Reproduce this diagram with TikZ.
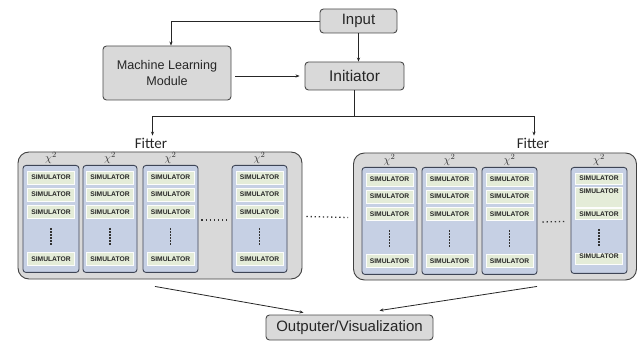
\documentclass[tikz,border=0pt]{standalone}
\usepackage{fontspec}
\setmainfont{Liberation Sans}
\newfontfamily\fitfont{Carlito}
\usetikzlibrary{arrows.meta,calc}
\definecolor{boxgray}{HTML}{D9D9D9}
\definecolor{boxline}{HTML}{4A4A4A}
\definecolor{colblue}{HTML}{C6D0E4}
\definecolor{colline}{HTML}{3E4556}
\definecolor{simgreen}{HTML}{E4ECD8}
\tikzset{
  box/.style={draw=boxline, fill=boxgray, rounded corners=3.5pt, line width=0.9pt, inner sep=0pt, text=black!85},
  fitbox/.style={draw=black!75, fill=boxgray, rounded corners=11pt, line width=0.9pt, inner sep=0pt},
  colbox/.style={draw=colline, fill=colblue, rounded corners=3pt, line width=0.9pt, inner sep=0pt},
  sim/.style={fill=simgreen, draw=white!90!simgreen, line width=0.3pt, inner sep=0pt, minimum width=47pt, minimum height=13pt, font=\fontsize{6.7}{8}\selectfont\bfseries, text=black!85},
  chi/.style={inner sep=0pt, font=\fontsize{11}{13}\selectfont, text=black!80},
  fitlabel/.style={inner sep=0pt, font=\fitfont\fontsize{15}{17}\selectfont, text=black!85},
  arr/.style={draw=black!85, line width=0.8pt, -{Stealth[length=4pt,width=3.2pt]}},
  plain/.style={draw=black!85, line width=0.8pt},
  vdots/.style={draw=black!80, line width=1.6pt, dash pattern=on 1.6pt off 1.5pt},
  hdots/.style={draw=black!80, line width=1.3pt, dash pattern=on 1.3pt off 2.8pt}
}
\newcommand\simcolumn[4]{%
  % #1 name, #2 x centre, #3 top y, #4 width
  \node[colbox, minimum width=#4pt, minimum height=107pt, anchor=north] (#1) at (#2,#3) {};
  \node[chi] (#1c) at ($(#1.north)+(0,-7)$) {$\chi^2$};
  \node[sim] (#1s1) at ($(#1.north)+(0,12.5)$) {SIMULATOR};
  \node[sim] (#1s2) at ($(#1.north)+(0,29.5)$) {SIMULATOR};
  \node[sim] (#1s3) at ($(#1.north)+(0,47)$) {SIMULATOR};
  \node[sim] (#1s4) at ($(#1.north)+(0,94)$) {SIMULATOR};
  \draw[vdots] ($(#1.north)+(0,63)$) -- ($(#1.north)+(0,81)$);
}
\begin{document}
\begin{tikzpicture}[x=1pt,y=-1pt]
\useasboundingbox (0,0) rectangle (638,342);

% top nodes
\node[box, minimum width=77pt, minimum height=24pt, font=\fontsize{15}{17}\selectfont] (input) at (358.5,21) {Input};
\node[box, minimum width=99pt, minimum height=28pt, font=\fontsize{15.5}{17}\selectfont] (init) at (354.5,76) {Initiator};
\node[box, minimum width=128pt, minimum height=54pt, align=center, font=\fontsize{12.6}{15.5}\selectfont] (ml) at (167,73) {Machine Learning\\Module};

\draw[arr] (input.west) -| ($(ml.north)+(4,0)$);
\draw[arr] (input.south) -- (input.south |- init.north);
\draw[arr, shorten <=4pt, shorten >=5pt] (ml.east |- init.west) -- (init.west);

% fitter labels
\node[fitlabel] (fitL) at (151,143) {Fitter};
\node[fitlabel] (fitR) at (533,143) {Fitter};

\draw[plain] (init.south) -- ++(0,26) coordinate (split);
\draw[arr] (split) -| ($(fitL.north)+(1.5,-2)$);
\draw[arr] (split) -| ($(fitR.north)+(1,-2)$);

% big fitter boxes
\node[fitbox, minimum width=284pt, minimum height=127pt] (bigL) at (160,215.5) {};
\node[fitbox, minimum width=283pt, minimum height=127pt] (bigR) at (495,216.5) {};

% columns, left
\simcolumn{L1}{51}{165}{56}
\simcolumn{L2}{110}{165}{54}
\simcolumn{L3}{170.5}{165}{55}
\simcolumn{L4}{259.5}{165}{55}
% columns, right
\simcolumn{R1}{389.5}{167}{55}
\simcolumn{R2}{449.5}{167}{55}
\simcolumn{R3}{509.5}{167}{55}
% right column 4 (irregular rows)
\node[colbox, minimum width=56pt, minimum height=106pt, anchor=north] (R4) at (599,167) {};
\node[chi] (R4c) at ($(R4.north)+(0,-7)$) {$\chi^2$};
\node[sim, minimum height=11pt] (R4s1) at ($(R4.north)+(0,11.5)$) {SIMULATOR};
\node[sim, minimum height=20pt, text depth=12pt] (R4s2) at ($(R4.north)+(0,30)$) {SIMULATOR};
\node[sim, minimum height=11pt] (R4s3) at ($(R4.north)+(0,47)$) {SIMULATOR};
\node[sim, minimum height=11pt, text depth=4pt] (R4s4) at ($(R4.north)+(0,91.5)$) {SIMULATOR};
\draw[vdots] ($(R4.north)+(0,62)$) -- ($(R4.north)+(0,80)$);

% horizontal ellipses
\draw[hdots] ($(L3.east)+(3,1)$) -- ($(L4.west)+(-3,1)$);
\draw[hdots] ($(bigL.east)+(4,1)$) -- ($(bigR.west)+(-5,1)$);
\draw[hdots] ($(R3.east)+(5,1)$) -- ($(R4.west)+(-4,1)$);

% output
\node[box, minimum width=167pt, minimum height=25pt, font=\fontsize{15}{17}\selectfont] (out) at (349.5,327.5) {Outputer/Visualization};
\draw[arr] ($(bigL.south)+(-5,7)$) -- ($(out.north)+(-46,-2)$);
\draw[arr] ($(bigR.south)+(42,6)$) -- ($(out.north)+(30,-4)$);
\end{tikzpicture}
\end{document}
